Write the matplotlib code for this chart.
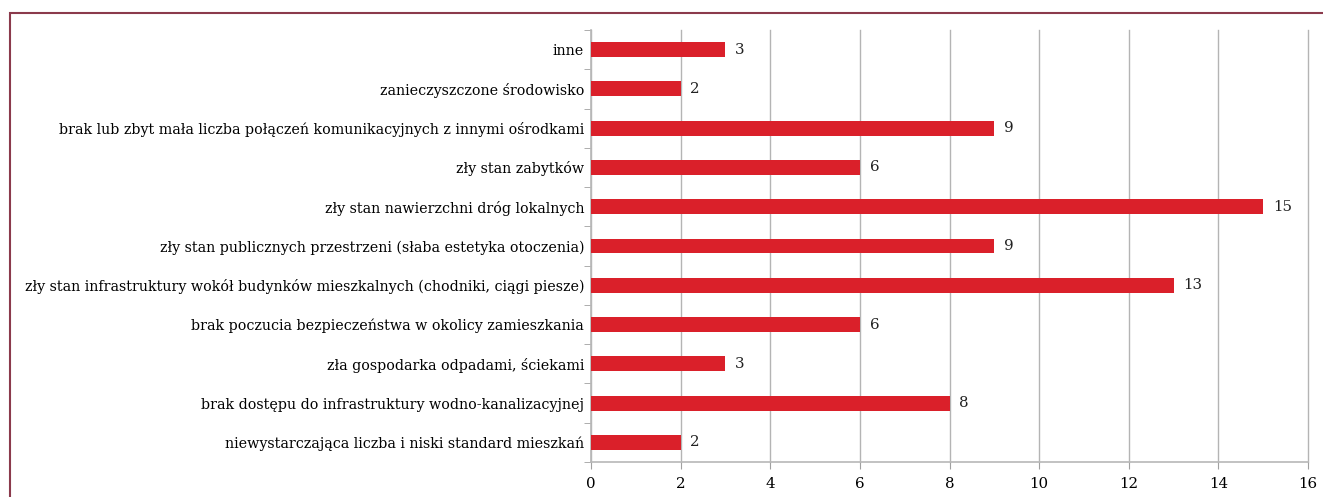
import matplotlib
matplotlib.use("Agg")
import matplotlib.pyplot as plt
from matplotlib.patches import Rectangle

categories = [
    "niewystarczająca liczba i niski standard mieszkań",
    "brak dostępu do infrastruktury wodno-kanalizacyjnej",
    "zła gospodarka odpadami, ściekami",
    "brak poczucia bezpieczeństwa w okolicy zamieszkania",
    "zły stan infrastruktury wokół budynków mieszkalnych (chodniki, ciągi piesze)",
    "zły stan publicznych przestrzeni (słaba estetyka otoczenia)",
    "zły stan nawierzchni dróg lokalnych",
    "zły stan zabytków",
    "brak lub zbyt mała liczba połączeń komunikacyjnych z innymi ośrodkami",
    "zanieczyszczone środowisko",
    "inne",
]
values = [2, 8, 3, 6, 13, 9, 15, 6, 9, 2, 3]
xticks = [0, 2, 4, 6, 8, 10, 12, 14, 16]

plt.rcParams['font.family'] = ['DejaVu Serif']
FS = 10.3

fig = plt.figure(figsize=(13.23, 4.97), dpi=100)
ax = fig.add_axes([591/1323, 1-462/497, (1308-591)/1323, (462-30)/497])

y = list(range(len(categories)))
ax.barh(y, values, height=0.38, color='#DA202A', zorder=3)
for yi, v in zip(y, values):
    ax.text(v + 0.22, yi, str(v), va='center', ha='left', fontsize=10.8, color='#222222')

ax.set_xlim(0, 16)
ax.set_ylim(-0.5, len(categories) - 0.5)
ax.set_xticks(xticks)
ax.set_xticklabels([str(t) for t in xticks], fontsize=10.8)
ax.set_yticks(y)
ax.set_yticklabels(categories, fontsize=FS)
ax.tick_params(axis='y', length=0, pad=5)
ax.set_yticks([i - 0.5 for i in range(len(categories) + 1)], minor=True)
ax.tick_params(axis='y', which='minor', length=5, color='#A0A0A0', direction='out')
ax.tick_params(axis='x', length=5, color='#A0A0A0', pad=6)
ax.xaxis.grid(True, color='#B4B4B4', linewidth=1, zorder=0)
for gl in ax.get_xgridlines():
    gl.set_clip_on(False)
for s in ['top', 'right']:
    ax.spines[s].set_visible(False)
for s in ['left', 'bottom']:
    ax.spines[s].set_color('#B8B8B8')
    ax.spines[s].set_linewidth(1.2)

border = Rectangle((10/1323, -0.5), 2, 1 - 13/497 + 0.5, transform=fig.transFigure,
                   fill=False, edgecolor='#8B3A4C', linewidth=1.5, clip_on=False)
fig.add_artist(border)

fig.savefig("out.png", dpi=100)
